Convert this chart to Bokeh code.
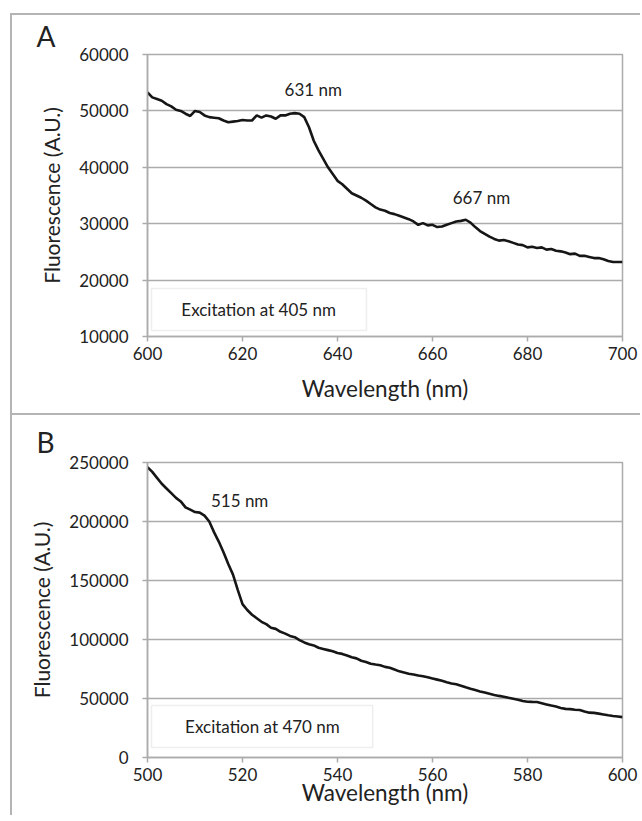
from bokeh.plotting import figure
from bokeh.layouts import column
from bokeh.models import Label, BoxAnnotation, FixedTicker, Range1d, BasicTickFormatter
from bokeh.embed import file_html
from bokeh.resources import INLINE

# ---------------- data ----------------
wl_a = list(range(600, 701))
fl_a = [53300, 52400, 52100, 51800, 51200, 50800, 50200, 50000, 49500, 49100,
        50000, 49800, 49200, 48900, 48800, 48700, 48300, 48000, 48100, 48200,
        48400, 48300, 48300, 49200, 48800, 49200, 49000, 48600, 49200, 49200,
        49500, 49600, 49500, 48900, 47100, 44700, 43000, 41500, 40000, 38800,
        37600, 37000, 36200, 35400, 35000, 34600, 34100, 33500, 32900, 32500,
        32300, 31900, 31700, 31400, 31100, 30800, 30400, 29800, 30100, 29700,
        29800, 29400, 29500, 29800, 30100, 30400, 30500, 30700, 30200, 29400,
        28700, 28200, 27700, 27300, 27000, 27100, 26900, 26600, 26300, 26200,
        25800, 25900, 25700, 25800, 25400, 25500, 25200, 25100, 24900, 24600,
        24700, 24300, 24300, 24100, 23900, 23900, 23700, 23400, 23200, 23200,
        23200]

wl_b = list(range(500, 601))
fl_b = [246000, 242000, 237000, 232000, 228000, 224000, 220000, 217000, 212000, 210000,
        208000, 207500, 205000, 200000, 191000, 183000, 174000, 164000, 155000, 142000,
        130000, 125000, 121000, 118000, 115000, 113000, 110000, 109000, 106500, 105000,
        103000, 102000, 99500, 97500, 96000, 95000, 93000, 92000, 91000, 90000,
        88500, 87800, 86500, 85000, 84000, 82000, 81000, 79500, 78800, 78200,
        76800, 76000, 74500, 73000, 72000, 71000, 70400, 69500, 68800, 68000,
        67000, 66000, 65000, 63800, 62700, 62000, 60800, 59500, 58300, 57200,
        56000, 55000, 54000, 53000, 52200, 51500, 50600, 49800, 49000, 47900,
        47300, 47100, 47000, 46000, 45000, 44000, 43200, 42000, 41200, 41000,
        40500, 40300, 39000, 38000, 37800, 37200, 36500, 35800, 35200, 34700,
        34200]

xticks_a = [600, 620, 640, 660, 680, 700]
yticks_a = [10000, 20000, 30000, 40000, 50000, 60000]
xticks_b = [500, 520, 540, 560, 580, 600]
yticks_b = [0, 50000, 100000, 150000, 200000, 250000]

panel_labels = ["A", "B"]
peaks_a = ["631 nm", "667 nm"]
peaks_b = ["515 nm"]
exc_a = "Excitation at 405 nm"
exc_b = "Excitation at 470 nm"

FONT = "Lato"
TXT = "#222222"
GRID = "#ababab"
BORDER = "#b4b4b4"


def make_panel(wl, fl, xt, yt, letter, top, height, bottom, title_standoff):
    p = figure(width=630, height=height, output_backend="svg", toolbar_location=None,
               x_range=Range1d(xt[0], xt[-1]), y_range=Range1d(yt[0], yt[-1]),
               min_border_left=135, min_border_right=20,
               min_border_top=top, min_border_bottom=bottom)
    p.line(wl, fl, line_color="#161616", line_width=2.6)
    p.title.text = letter
    p.title.text_font = FONT
    p.title.text_font_size = "28px"
    p.title.text_font_style = "normal"
    p.title.text_color = TXT
    p.title.align = "left"
    p.title.vertical_align = "top"
    p.title.offset = -111
    p.title.standoff = title_standoff
    p.outline_line_color = GRID
    p.outline_line_width = 1.5
    p.xgrid.grid_line_color = None
    p.ygrid.grid_line_color = GRID
    p.ygrid.grid_line_width = 1.5
    p.xaxis.ticker = FixedTicker(ticks=xt)
    p.yaxis.ticker = FixedTicker(ticks=yt)
    p.yaxis.formatter = BasicTickFormatter(use_scientific=False)
    for ax in (p.xaxis, p.yaxis):
        ax.axis_line_color = GRID
        ax.axis_line_width = 1.5
        ax.major_tick_line_color = GRID
        ax.major_tick_line_width = 1.5
        ax.major_tick_out = 5
        ax.major_tick_in = 0
        ax.minor_tick_line_color = None
        ax.major_label_text_font = FONT
        ax.major_label_text_font_size = "17px"
        ax.major_label_text_color = TXT
        ax.axis_label_text_font = FONT
        ax.axis_label_text_font_style = "normal"
        ax.axis_label_text_color = TXT
    p.xaxis.axis_label_text_font_size = "22.5px"
    p.yaxis.axis_label_text_font_size = "21px"
    p.xaxis.axis_label = "Wavelength (nm)"
    p.yaxis.axis_label = "Fluorescence (A.U.)"
    p.yaxis.major_label_standoff = 14
    p.xaxis.major_label_standoff = 5
    p.yaxis.axis_label_standoff = 12
    p.styles = {"border-top": "2px solid " + BORDER, "border-left": "2px solid " + BORDER}
    return p


p1 = make_panel(wl_a, fl_a, xticks_a, yticks_a, panel_labels[0], 39, 400, 79, 0)
p1.xaxis.axis_label_standoff = 12
p1.add_layout(Label(x=634.9, y=53800, text=peaks_a[0], text_font=FONT, text_font_size="17px",
                    text_color=TXT, text_align="center", text_baseline="middle"))
p1.add_layout(Label(x=670.3, y=34640, text=peaks_a[1], text_font=FONT, text_font_size="17px",
                    text_color=TXT, text_align="center", text_baseline="middle"))
p1.add_layout(BoxAnnotation(left=600.85, right=646.1, bottom=11064, top=18510,
                            fill_color="white", fill_alpha=1.0,
                            line_color="#c8c8c8", line_width=1.5))
p1.add_layout(Label(x=623.4, y=14790, text=exc_a, text_font=FONT, text_font_size="17px",
                    text_color=TXT, text_align="center", text_baseline="middle"))

p2 = make_panel(wl_b, fl_b, xticks_b, yticks_b, panel_labels[1], 47, 402, 60, 4)
p2.xaxis.axis_label_standoff = -5
p2.add_layout(Label(x=519.4, y=217800, text=peaks_b[0], text_font=FONT, text_font_size="17px",
                    text_color=TXT, text_align="center", text_baseline="middle"))
p2.add_layout(BoxAnnotation(left=500.85, right=547.4, bottom=8460, top=44070,
                            fill_color="white", fill_alpha=1.0,
                            line_color="#c8c8c8", line_width=1.5))
p2.add_layout(Label(x=524.2, y=26260, text=exc_b, text_font=FONT, text_font_size="17px",
                    text_color=TXT, text_align="center", text_baseline="middle"))

layout = column(p1, p2, spacing=0)
layout.styles = {"margin-top": "13px", "margin-left": "10px"}

open("out.html", "w").write(file_html(layout, INLINE))
